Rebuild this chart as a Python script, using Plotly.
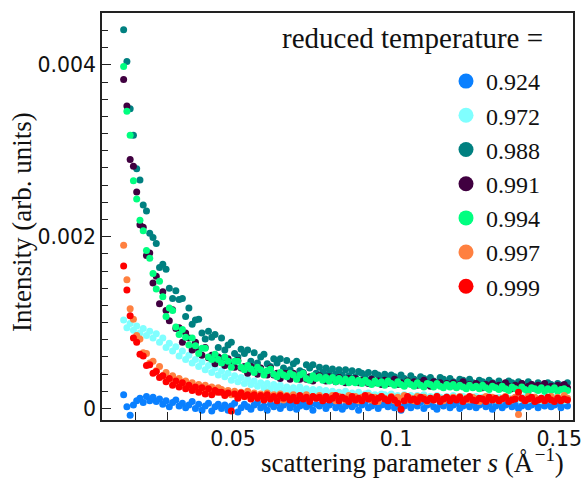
import numpy as np
import plotly.graph_objects as go

# scattering parameter s (1/Angstrom) sampling grid
s_values = np.round(np.arange(0.0165, 0.1530, 0.001), 4).tolist()

# intensities in units of 1e-5 (arb. units)
I_0924 = [16, 2, -8, 4, 9, 12, 7, 14, 9, 13,
          8, 11, 5, 9, 2, 7, 10, 3, 6, 1,
          4, 8, 0, 5, -2, 3, 6, -3, 2, 5,
          0, 4, -2, 3, 6, -4, 1, 5, 2, -1,
          4, 7, 1, 3, -2, 5, 2, 6, 0, 4,
          7, 1, 5, -1, 3, 6, 2, 4, -2, 5,
          3, 6, 0, 4, 7, 1, 5, -1, 3, 6,
          2, 5, -2, 4, 7, 1, 3, 6, 0, 4,
          5, 2, 7, 1, 4, -2, 3, 6, 1, 5,
          3, 7, 0, 4, 6, 2, -1, 5, 3, 7,
          1, 4, 6, 0, 3, 5, 2, 7, 1, 4,
          6, 2, 5, -1, 3, 7, 1, 4, 6, 2,
          5, 0, 3, 7, 2, 4, 6, 1, 5, 3,
          7, 2, 4, 6, 1, 5, 3]
I_0972 = [103, 94, 99, 91, 96, 88, 93, 85, 90, 82,
          87, 77, 82, 71, 76, 67, 72, 61, 67, 57,
          62, 53, 57, 49, 54, 45, 50, 42, 47, 39,
          44, 37, 41, 33, 38, 31, 36, 29, 34, 28,
          32, 26, 30, 24, 29, 23, 28, 22, 27, 21,
          25, 21, 24, 20, 25, 19, 23, 18, 22, 19,
          22, 17, 21, 16, 20, 17, 19, 15, 20, 16,
          18, 15, 19, 14, 17, 18, 14, 16, 13, 17,
          16, 13, 17, 14, 15, 12, 16, 13, 15, 12,
          15, 13, 16, 12, 14, 11, 15, 13, 11, 14,
          12, 15, 11, 13, 14, 10, 13, 12, 14, 11,
          13, 11, 14, 12, 10, 13, 11, 14, 12, 10,
          13, 11, 12, 14, 10, 12, 13, 11, 9, 13,
          12, 10, 13, 11, 12, 9, 12]
I_0988 = [441, 404, 349, 318, 279, 266, 237, 230, 204, 199,
          192, 164, 168, 162, 140, 128, 137, 127, 128, 107,
          117, 98, 103, 104, 88, 81, 90, 83, 86, 71,
          82, 68, 74, 77, 64, 60, 69, 64, 68, 55,
          65, 53, 60, 63, 52, 49, 58, 53, 58, 47,
          56, 45, 52, 55, 44, 42, 51, 47, 51, 41,
          48, 42, 47, 41, 46, 40, 45, 39, 45, 38,
          44, 37, 43, 41, 36, 42, 35, 41, 39, 35,
          40, 34, 39, 37, 33, 39, 35, 32, 38, 34,
          31, 37, 35, 31, 36, 32, 30, 36, 34, 30,
          35, 31, 29, 34, 33, 29, 34, 30, 28, 33,
          31, 27, 33, 30, 27, 32, 28, 26, 32, 30,
          26, 31, 29, 25, 31, 28, 26, 30, 27, 25,
          30, 28, 25, 29, 27, 24, 30]
I_0991 = [383, 352, 290, 282, 252, 214, 211, 178, 181, 146,
          154, 122, 136, 114, 102, 115, 93, 94, 77, 88,
          82, 68, 77, 68, 62, 71, 59, 62, 52, 60,
          58, 50, 58, 51, 48, 56, 47, 49, 41, 49,
          47, 40, 47, 42, 39, 47, 39, 41, 35, 41,
          41, 34, 41, 36, 34, 41, 34, 37, 32, 37,
          38, 35, 32, 37, 34, 31, 36, 33, 30, 35,
          32, 35, 30, 33, 31, 29, 34, 30, 32, 28,
          33, 29, 31, 34, 28, 30, 27, 32, 29, 31,
          27, 30, 33, 28, 26, 31, 28, 30, 26, 29,
          27, 30, 25, 28, 31, 26, 28, 25, 29, 27,
          24, 28, 26, 29, 25, 27, 24, 30, 26, 23,
          27, 25, 29, 24, 26, 28, 23, 27, 25, 29,
          24, 26, 23, 27, 25, 28, 24]
I_0994 = [398, 346, 318, 265, 244, 219, 207, 184, 175, 157,
          139, 148, 130, 107, 117, 114, 95, 86, 92, 83,
          74, 82, 73, 64, 70, 70, 60, 57, 63, 57,
          53, 60, 55, 48, 55, 55, 48, 45, 50, 46,
          42, 48, 45, 39, 44, 46, 40, 37, 42, 39,
          37, 41, 39, 34, 39, 41, 35, 33, 38, 35,
          37, 33, 36, 32, 36, 31, 35, 31, 34, 30,
          34, 30, 33, 29, 33, 30, 28, 32, 29, 31,
          27, 32, 29, 27, 31, 28, 26, 31, 28, 26,
          30, 27, 25, 29, 28, 25, 29, 26, 24, 28,
          25, 28, 24, 27, 25, 23, 27, 24, 26, 23,
          27, 24, 22, 26, 24, 22, 26, 23, 21, 25,
          23, 21, 25, 22, 20, 24, 23, 21, 24, 20,
          23, 21, 24, 20, 22, 23, 21]
I_0997 = [190, 150, 116, 104, 85, 81, 65, 64, 53, 55,
          44, 49, 38, 42, 34, 38, 31, 35, 28, 32,
          25, 30, 23, 28, 22, 27, 20, 25, 19, 24,
          22, 17, 21, 16, 20, 15, 19, 14, 20, 13,
          18, 13, 17, 12, 18, 11, 16, 13, 17, 10,
          15, 11, 16, 10, 14, 12, 16, 9, 14, 12,
          15, 10, 13, 11, 15, 9, 14, 12, 10, 15,
          11, 14, 9, 13, 12, 15, 10, 13, 8, 14,
          12, 10, 14, 9, 13, 11, 15, 10, 12, 9,
          14, 11, 13, 8, 12, 10, 14, 11, 9, 13,
          10, 13, 11, 14, 9, 12, 10, 13, 11, 8,
          12, 14, 10, 13, 11, 9, 12, 14, 10, 11,
          13, -7, 12, 9, 14, 11, 13, 10, 12, 9,
          12, 14, 10, 13, 11, 15, 12]
I_0999 = [166, 138, 108, 82, 77, 63, 61, 50, 51, 41,
          43, 36, 38, 31, 35, 27, 32, 25, 30, 23,
          27, 21, 25, 19, 24, 17, 23, 16, 21, 19,
          19, 15, 18, -3, 17, 12, 18, 14, 16, 11,
          16, 12, 15, 10, 16, 11, 14, 9, 15, 12,
          14, 10, 13, 9, 15, 11, 13, 8, 14, 12,
          13, 9, 14, 10, 12, 15, 9, 13, 11, 8,
          14, 10, 12, 9, 15, 11, 13, 8, 12, 14,
          11, 9, 13, 10, 6, -1, 9, 14, 10, 11,
          8, 13, 11, 9, 12, 10, 14, 8, 11, 13,
          9, 12, 10, 13, 8, 11, 14, 10, 9, 12,
          11, 8, 13, 10, 12, 9, 11, 13, 8, 10,
          11, 19, 12, 9, 11, 13, 8, 10, 12, 9,
          13, 10, 8, 12, 9, 11, 10]

UNIT = 1e-5
series_names = ["0.924", "0.972", "0.988", "0.991", "0.994", "0.997", "0.999"]
series_values = [I_0924, I_0972, I_0988, I_0991, I_0994, I_0997, I_0999]
series_colors = ["#0a80ff", "#80ffff", "#008080", "#400040", "#00ff80", "#ff8040", "#ff0000"]

serif = "Liberation Serif, Times New Roman, serif"
sans = "DejaVu Sans, Verdana, sans-serif"

fig = go.Figure()
for name, vals, col in zip(series_names, series_values, series_colors):
    fig.add_trace(go.Scatter(
        x=s_values, y=[v * UNIT for v in vals], mode="markers", name=name,
        marker=dict(size=7, color=col, line=dict(width=0)),
        showlegend=False, legendgroup=name))
for name, col in zip(series_names, series_colors):
    fig.add_trace(go.Scatter(
        x=[None], y=[None], mode="markers", name=name,
        marker=dict(size=15, color=col, line=dict(width=0)),
        showlegend=True, legendgroup=name))

axis_common = dict(showline=True, linecolor="#222", linewidth=1.6, mirror=True,
                   showgrid=False, zeroline=False, ticks="inside", tickcolor="#222",
                   tickwidth=1.4, tickfont=dict(family=sans, size=20.5, color="#111"))

fig.update_xaxes(range=[0.00987, 0.1542], dtick=0.05, tick0=0, ticklen=9,
                 minor=dict(dtick=0.01, ticks="inside", ticklen=8, tickcolor="#222", tickwidth=1.4),
                 ticklabelstandoff=0, automargin=False, **axis_common)
fig.update_yaxes(range=[-0.000134, 0.004604], dtick=0.002, tick0=0, ticklen=9,
                 minor=dict(dtick=0.0002, ticks="inside", ticklen=6, tickcolor="#222", tickwidth=1.4),
                 automargin=False, **axis_common)

fig.add_annotation(text="scattering parameter <i>s</i> (Å<sup>\u200a−1</sup>)",
                   xref="paper", yref="paper", x=(566 - 102) / 471, y=(420 - 461) / 407,
                   xanchor="right", yanchor="middle", showarrow=False,
                   font=dict(family=serif, size=27, color="#111"))
fig.add_annotation(text="Intensity (arb. units)", textangle=-90,
                   xref="paper", yref="paper", x=(22 - 102) / 471, y=(420 - 222) / 407,
                   xanchor="center", yanchor="middle", showarrow=False,
                   font=dict(family=serif, size=27, color="#111"))
fig.add_annotation(text="reduced temperature =",
                   xref="paper", yref="paper", x=(280 - 102) / 471, y=(420 - 38) / 407,
                   xanchor="left", yanchor="middle", showarrow=False,
                   font=dict(family=serif, size=29, color="#111"))

fig.update_layout(
    width=584, height=492,
    margin=dict(l=102, r=11, t=13, b=72),
    paper_bgcolor="white", plot_bgcolor="white",
    legend=dict(x=(446 - 102) / 471, y=(420 - 59) / 407, xanchor="left", yanchor="top",
                bgcolor="rgba(0,0,0,0)", borderwidth=0, itemsizing="trace",
                font=dict(family=serif, size=24, color="#111"), tracegroupgap=0),
)

fig.write_html("out.html", config={"displayModeBar": False},
               post_script="document.body.style.margin='0';document.body.style.overflow='hidden';")
